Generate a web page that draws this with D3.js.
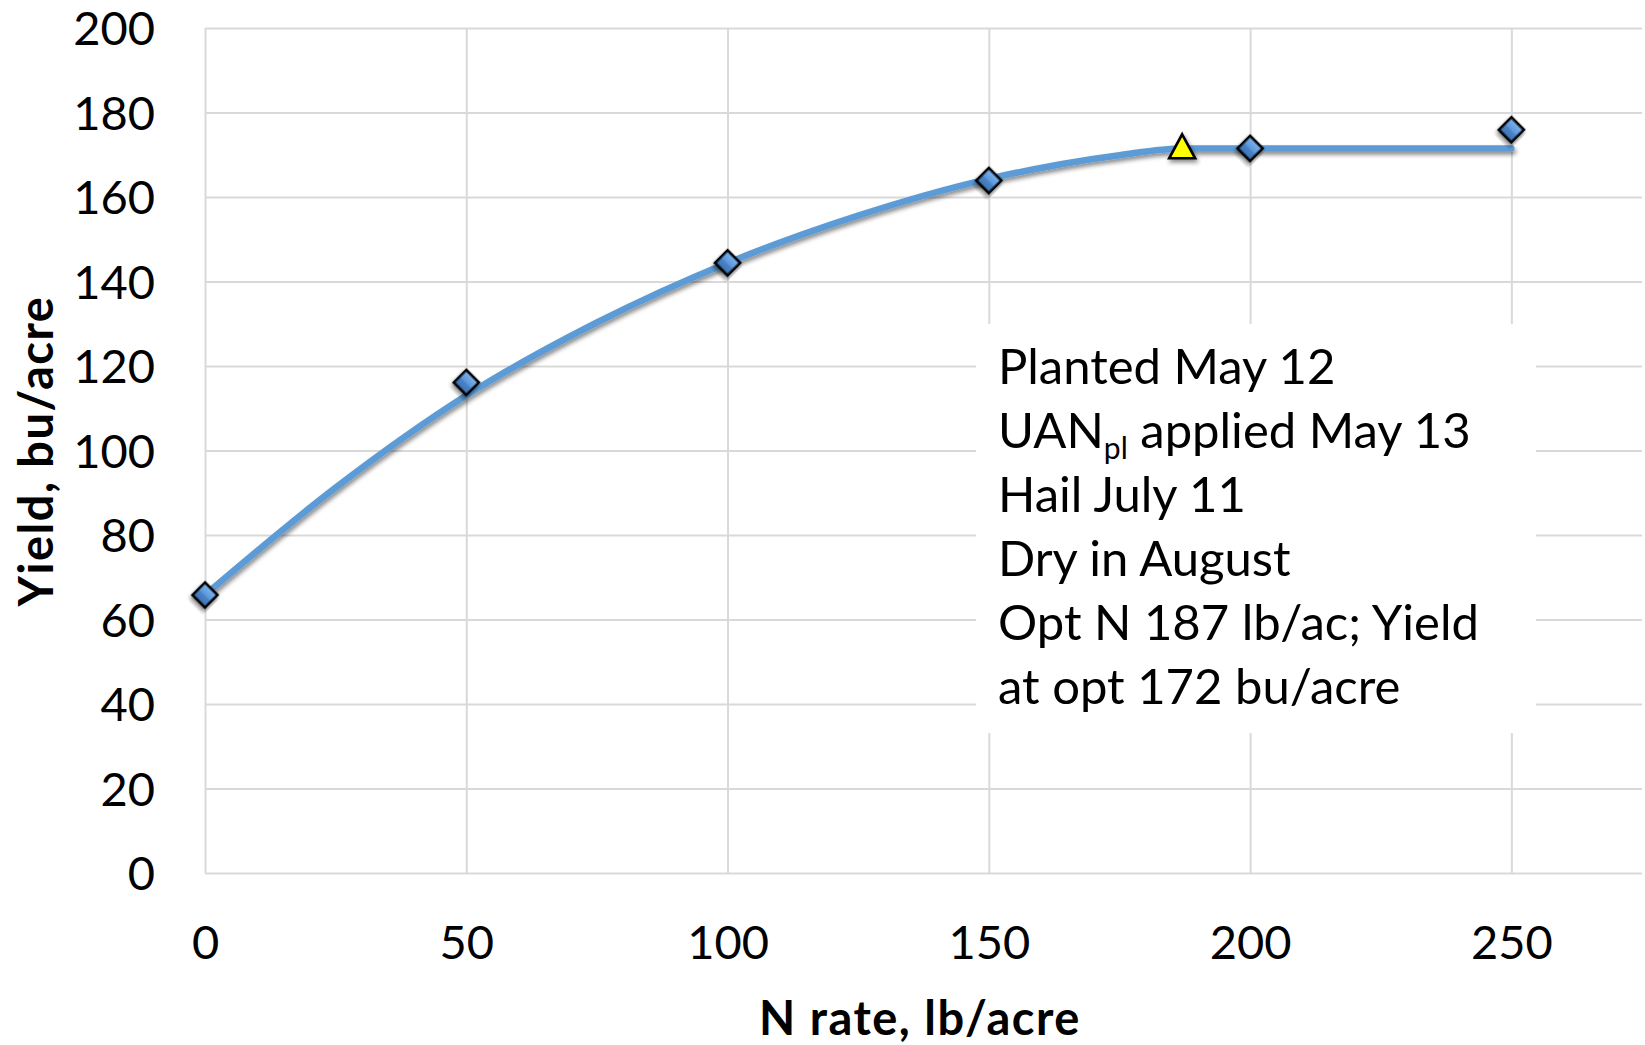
<!DOCTYPE html>
<html>
<head>
<meta charset="utf-8">
<script src="https://cdn.jsdelivr.net/npm/d3@7"></script>
<style>
  html, body { margin: 0; padding: 0; background: #fff; }
  svg { display: block; }
  text { font-family: Lato, "Open Sans", sans-serif; fill: #000; }
</style>
</head>
<body>
<svg id="chart" width="1645" height="1045"></svg>
<script>
// Measured yields by N rate
const nRates = [0, 50, 100, 150, 200, 250];
const yields = [65.8, 116.1, 144.4, 163.9, 171.5, 175.9];

// Fitted quadratic-plateau response curve
const fitN = [0, 25, 50, 75, 100, 125, 150, 175, 187, 200, 250];
const fitYield = [65.8, 91.2, 113.0, 130.3, 144.4, 155.6, 164.3, 169.9, 171.5, 171.5, 171.5];

// Economic optimum
const optN = 187;
const optYield = 172;

const xTicks = [0, 50, 100, 150, 200, 250];
const yTicks = [0, 20, 40, 60, 80, 100, 120, 140, 160, 180, 200];

const noteLines = [
  [{ t: "Planted May 12" }],
  [{ t: "UAN" }, { t: "pl", sub: true }, { t: " applied May 13" }],
  [{ t: "Hail July 11" }],
  [{ t: "Dry in August" }],
  [{ t: "Opt N 187 lb/ac; Yield" }],
  [{ t: "at opt 172 bu/acre" }]
];

const xTitle = "N rate, lb/acre";
const yTitle = "Yield, bu/acre";

// ---- layout ----
const plotLeft = 205, plotRight = 1642, plotTop = 28, plotBottom = 873;
const svg = d3.select("#chart");

const x = d3.scaleLinear().domain([0, 275]).range([plotLeft, plotRight]);
const y = d3.scaleLinear().domain([0, 200]).range([plotBottom, plotTop]);

const defs = svg.append("defs");
const shadow = defs.append("filter").attr("id", "shadow")
  .attr("x", "-20%").attr("y", "-20%").attr("width", "140%").attr("height", "160%");
shadow.append("feDropShadow")
  .attr("dx", 1.5).attr("dy", 3).attr("stdDeviation", 2)
  .attr("flood-color", "#000").attr("flood-opacity", 0.45);

const grad = defs.append("linearGradient").attr("id", "diamondFill")
  .attr("x1", 0).attr("y1", 0).attr("x2", 0).attr("y2", 1);
[["0%", "#7db4ee"], ["48%", "#5c98da"], ["56%", "#4a84c7"], ["100%", "#3c70b0"]]
  .forEach(([o, c]) => grad.append("stop").attr("offset", o).attr("stop-color", c));

// ---- gridlines and tick labels ----
const gridColor = "#d9d9d9";
const tickFont = 47;

const yAxis = svg.append("g")
  .attr("transform", `translate(${plotLeft},0)`)
  .call(d3.axisLeft(y).tickValues(yTicks).tickSize(-(plotRight - plotLeft)).tickPadding(50).tickFormat(d3.format("d")));
yAxis.select(".domain").remove();
yAxis.selectAll(".tick line").attr("stroke", gridColor).attr("stroke-width", 2);
yAxis.selectAll(".tick text")
  .attr("font-size", tickFont).attr("font-family", "Lato, sans-serif").attr("fill", "#000")
  .attr("dy", "0.36em");

const xAxis = svg.append("g")
  .attr("transform", `translate(0,${plotBottom})`)
  .call(d3.axisBottom(x).tickValues(xTicks).tickSize(-(plotBottom - plotTop)).tickFormat(d3.format("d")));
xAxis.select(".domain").remove();
xAxis.selectAll(".tick line").attr("stroke", gridColor).attr("stroke-width", 2);
xAxis.selectAll(".tick text")
  .attr("font-size", tickFont).attr("font-family", "Lato, sans-serif").attr("fill", "#000")
  .attr("y", 86).attr("dy", 0);

// ---- annotation box (white background over the grid) ----
svg.append("rect")
  .attr("x", 976).attr("y", 324).attr("width", 560).attr("height", 409)
  .attr("fill", "#fff");

const lineGap = 64;
const note = svg.append("text")
  .attr("x", 998).attr("y", 384)
  .attr("font-size", 49);
noteLines.forEach((line, i) => {
  line.forEach((part, j) => {
    const ts = note.append("tspan").text(part.t);
    if (j === 0) ts.attr("x", 998).attr("y", 384 + i * lineGap);
    if (part.sub) ts.attr("font-size", 30).attr("dy", 11);
    else if (j > 0 && line[j - 1].sub) ts.attr("dy", -11);
  });
});

// ---- fitted curve ----
const curve = d3.line()
  .x((d, i) => x(fitN[i]))
  .y((d, i) => y(fitYield[i]))
  .curve(d3.curveMonotoneX);

svg.append("path")
  .datum(fitYield)
  .attr("d", curve)
  .attr("fill", "none")
  .attr("stroke", "#5b9bd5")
  .attr("stroke-width", 6.5)
  .attr("stroke-linecap", "round")
  .attr("filter", "url(#shadow)");

// ---- measured points (diamonds) ----
const diamond = d3.symbol().type(d3.symbolSquare).size(2 * 12.5 * 12.5);
svg.append("g").selectAll("path")
  .data(yields)
  .join("path")
  .attr("d", diamond)
  .attr("transform", (d, i) => `translate(${x(nRates[i])},${y(d)}) rotate(45)`)
  .attr("fill", "url(#diamondFill)")
  .attr("stroke", "#000")
  .attr("stroke-width", 2.6)
  .attr("stroke-linejoin", "miter")
  .attr("filter", "url(#shadow)");

// ---- optimum (triangle) ----
const tw = 26, th = 24;
svg.append("path")
  .datum([optN, optYield])
  .attr("d", `M0,${-th / 2}L${tw / 2},${th / 2}L${-tw / 2},${th / 2}Z`)
  .attr("transform", d => `translate(${x(d[0])},${y(d[1])})`)
  .attr("fill", "#ffff00")
  .attr("stroke", "#000")
  .attr("stroke-width", 2.6)
  .attr("stroke-linejoin", "miter")
  .attr("filter", "url(#shadow)");

// ---- axis titles ----
svg.append("text")
  .attr("x", 920).attr("y", 1035)
  .attr("text-anchor", "middle")
  .attr("font-family", "'Open Sans', Lato, sans-serif")
  .attr("font-size", 47).attr("font-weight", 700)
  .attr("letter-spacing", 1.5)
  .text(xTitle);

svg.append("text")
  .attr("transform", "translate(53,451) rotate(-90)")
  .attr("text-anchor", "middle")
  .attr("font-family", "'Open Sans', Lato, sans-serif")
  .attr("font-size", 47).attr("font-weight", 700)
  .attr("letter-spacing", 1.5)
  .text(yTitle);
</script>
</body>
</html>
